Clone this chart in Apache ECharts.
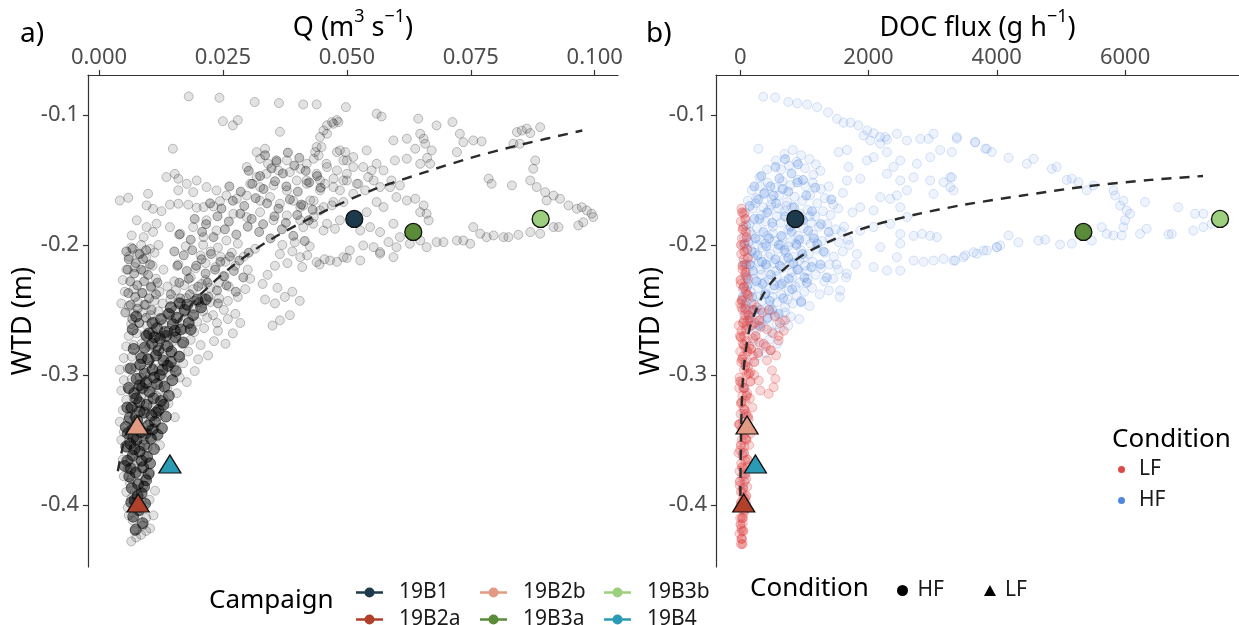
<!DOCTYPE html>
<html><head><meta charset="utf-8">
<script src="https://cdn.jsdelivr.net/npm/echarts@6/dist/echarts.min.js"></script>
<style>html,body{margin:0;padding:0;background:#fff}#c{width:1239px;height:625px}</style>
</head><body><div id="c"></div>
<script>
// ---------------- DATA ----------------
const campaigns = ['19B1', '19B2a', '19B2b', '19B3a', '19B3b', '19B4'];
const campaignQ = [0.0515, 0.0079, 0.0077, 0.0634, 0.0891, 0.0143];
const campaignDOC = [860, 55, 107, 5350, 7480, 237];
const campaignWTD = [-0.18, -0.40, -0.34, -0.19, -0.18, -0.37];
const campaignCondition = ['HF', 'LF', 'LF', 'HF', 'HF', 'LF'];

const qTicks = [0, 0.025, 0.05, 0.075, 0.1];
const docTicks = [0, 2000, 4000, 6000];
const wtdTicks = [-0.4, -0.3, -0.2, -0.1];

// fitted curves
const fitQ = [0.0038, 0.0042, 0.005, 0.006, 0.008, 0.011, 0.015, 0.02, 0.027, 0.035, 0.045, 0.055, 0.065, 0.075, 0.085, 0.0975];
const fitWtdA = [-0.374, -0.366, -0.352, -0.338, -0.314, -0.289, -0.264, -0.240, -0.216, -0.195, -0.175, -0.158, -0.145, -0.133, -0.123, -0.112];
const fitDoc = [3, 6, 12, 22, 40, 70, 110, 160, 240, 350, 500, 700, 1000, 1400, 2000, 2700, 3500, 4400, 5400, 6400, 7215];
const fitWtdB = [-0.393, -0.372, -0.35, -0.326, -0.305, -0.288, -0.274, -0.262, -0.251, -0.239, -0.228, -0.218, -0.207, -0.197, -0.186, -0.177, -0.169, -0.162, -0.155, -0.150, -0.147];

// panel a: darkest core of the Q / WTD cloud  [Q, WTD]
const qWtdCore = [
[0.0074,-0.419],[0.0088,-0.414],[0.0069,-0.409],[0.0081,-0.404],[0.0093,-0.399],[0.0072,-0.396],[0.0086,-0.391],[0.0066,-0.387],
[0.0079,-0.384],[0.0095,-0.381],[0.0061,-0.378],[0.0074,-0.375],[0.0089,-0.371],[0.0103,-0.368],[0.0057,-0.366],[0.0068,-0.362],[0.0082,-0.359],[0.0097,-0.363],[0.0111,-0.357],[0.0063,-0.353],[0.0076,-0.35],[0.0091,-0.354],[0.0105,-0.349],
[0.0118,-0.346],[0.0058,-0.345],[0.007,-0.341],[0.0084,-0.344],[0.0099,-0.339],[0.0113,-0.336],[0.0127,-0.341],[0.0062,-0.333],[0.0077,-0.335],[0.0091,-0.329],[0.0106,-0.331],[0.012,-0.327],[0.0135,-0.332],[0.0066,-0.325],[0.0081,-0.321],[0.0096,-0.323],[0.011,-0.318],[0.0125,-0.32],[0.0141,-0.316],[0.0071,-0.314],[0.0087,-0.31],[0.0102,-0.313],
[0.0117,-0.307],[0.0132,-0.309],[0.0148,-0.304],[0.0076,-0.303],[0.0092,-0.299],[0.0108,-0.296],[0.0123,-0.3],[0.0139,-0.293],[0.0155,-0.297],[0.0083,-0.292],[0.0099,-0.288],[0.0115,-0.285],[0.013,-0.289],[0.0146,-0.282],[0.0162,-0.286],[0.0092,-0.279],[0.0107,-0.276],[0.0123,-0.272],[0.0138,-0.278],[0.0154,-0.271],[0.017,-0.275],
[0.0101,-0.268],[0.0117,-0.264],[0.0133,-0.267],[0.0149,-0.261],[0.0165,-0.265],[0.0181,-0.26],[0.0125,-0.257],[0.0141,-0.253],[0.0157,-0.256],[0.0173,-0.25],[0.019,-0.254],[0.0206,-0.248],[0.0163,-0.245],[0.0198,-0.242],
[0.0052,-0.37],[0.0055,-0.355],[0.0054,-0.34],[0.0057,-0.325],[0.006,-0.31],[0.0064,-0.295],[0.007,-0.28],[0.0068,-0.265],[0.0075,-0.255],
[0.0065,-0.398],[0.0078,-0.393],[0.0091,-0.386],[0.0064,-0.372],[0.0086,-0.366],[0.01,-0.376],[0.0072,-0.357],[0.0094,-0.345],[0.0108,-0.342],[0.0069,-0.348],[0.0082,-0.328],[0.0115,-0.329],[0.013,-0.323],[0.0075,-0.318],[0.0095,-0.306],[0.0111,-0.302],[0.0128,-0.296],[0.0145,-0.29],[0.0086,-0.287],[0.012,-0.281],[0.0135,-0.27],[0.0153,-0.266],[0.0112,-0.271],[0.0145,-0.248],[0.0178,-0.246],[0.0185,-0.265],[0.0215,-0.242],[0.0108,-0.26],[0.0096,-0.27],[0.0082,-0.308]
];

// panel a: medium-density part of the cloud  [Q, WTD]
const qWtdMid = [
[0.0055,-0.205],[0.0068,-0.203],[0.0082,-0.207],[0.0095,-0.204],[0.006,-0.211],[0.0074,-0.214],[0.0089,-0.211],[0.0103,-0.215],[0.0058,-0.219],[0.0071,-0.222],[0.0085,-0.219],[0.0099,-0.223],[0.0063,-0.228],[0.0077,-0.231],[0.0091,-0.228],[0.0105,-0.232],[0.0118,-0.229],[0.0059,-0.237],[0.0073,-0.24],[0.0087,-0.237],[0.0101,-0.241],[0.0115,-0.238],[0.0064,-0.246],[0.0078,-0.249],[0.0092,-0.246],[0.0106,-0.25],[0.0053,-0.252],[0.0067,-0.257],[0.0081,-0.26],[0.0095,-0.256],
[0.0152,-0.205],[0.0171,-0.208],[0.0188,-0.204],[0.0207,-0.211],[0.0226,-0.207],[0.0245,-0.213],[0.0264,-0.209],[0.0283,-0.212],[0.0302,-0.206],[0.0158,-0.216],[0.0177,-0.22],[0.0196,-0.216],[0.0215,-0.222],[0.0234,-0.219],[0.0253,-0.224],[0.0272,-0.22],[0.0291,-0.225],[0.0162,-0.229],[0.0181,-0.226],[0.02,-0.232],[0.0219,-0.229],[0.0238,-0.235],[0.0257,-0.231],[0.0276,-0.236],[0.0145,-0.238],[0.0164,-0.241],[0.0183,-0.238],[0.0202,-0.244],[0.0221,-0.24],[0.024,-0.245],
[0.0162,-0.192],[0.0185,-0.196],[0.0208,-0.19],[0.0231,-0.194],[0.0254,-0.188],[0.0277,-0.192],[0.03,-0.186],[0.0323,-0.19],[0.0346,-0.195],[0.0369,-0.188],[0.0392,-0.193],[0.0415,-0.197],[0.0193,-0.18],[0.0216,-0.184],[0.0239,-0.178],[0.0262,-0.182],[0.0285,-0.176],[0.0308,-0.18],[0.0331,-0.184],[0.0354,-0.178],[0.0377,-0.183],[0.04,-0.177],[0.0423,-0.181],
[0.0224,-0.168],[0.0247,-0.172],[0.027,-0.166],[0.0293,-0.17],[0.0316,-0.164],[0.0339,-0.168],[0.0362,-0.172],[0.0385,-0.165],[0.0408,-0.169],[0.0431,-0.173],[0.0263,-0.155],[0.0286,-0.159],[0.0309,-0.153],[0.0332,-0.157],[0.0355,-0.151],[0.0378,-0.155],[0.0401,-0.159],[0.0424,-0.152],[0.0447,-0.156],[0.0302,-0.143],[0.0325,-0.147],[0.0348,-0.141],[0.0371,-0.145],[0.0394,-0.139],[0.0417,-0.143],[0.044,-0.147],[0.0335,-0.131],[0.0358,-0.135],[0.0381,-0.129],[0.0404,-0.133]
];

// panel a: rest of the Q / WTD cloud  [Q, WTD]
const qWtdCloud = [
[0.0065,-0.428],[0.0075,-0.425],[0.0085,-0.423],[0.0095,-0.42],[0.0103,-0.418],[0.0072,-0.42],[0.0088,-0.416],[0.0068,-0.412],[0.006,-0.408],[0.0078,-0.405],[0.0095,-0.41],[0.011,-0.408],[0.0058,-0.402],[0.007,-0.398],[0.0085,-0.4],[0.0065,-0.395],[0.0102,-0.396],[0.0055,-0.39],[0.0075,-0.388],[0.009,-0.385],[0.0062,-0.383],[0.0113,-0.389],
[0.005,-0.378],[0.0065,-0.38],[0.008,-0.377],[0.0095,-0.379],[0.0058,-0.372],[0.0072,-0.37],[0.0087,-0.372],[0.0103,-0.375],[0.0048,-0.365],[0.0063,-0.364],[0.0078,-0.366],[0.0092,-0.362],[0.0068,-0.358],[0.0083,-0.355],[0.0055,-0.356],[0.0098,-0.356],[0.0123,-0.354],[0.0045,-0.35],[0.006,-0.351],[0.0075,-0.349],[0.009,-0.35],[0.0105,-0.348],
[0.005,-0.344],[0.0065,-0.342],[0.0082,-0.34],[0.0097,-0.343],[0.0112,-0.341],[0.0042,-0.336],[0.0058,-0.335],[0.0073,-0.333],[0.0088,-0.334],[0.0103,-0.336],[0.0118,-0.332],[0.0153,-0.3325],[0.0048,-0.327],[0.0063,-0.326],[0.0078,-0.325],[0.0093,-0.327],[0.0108,-0.324],[0.0125,-0.326],[0.014,-0.322],[0.0055,-0.319],[0.007,-0.318],[0.0085,-0.317],[0.01,-0.319],[0.0115,-0.316],[0.013,-0.318],[0.0157,-0.314],[0.0045,-0.312],[0.006,-0.311],[0.0078,-0.31],[0.0092,-0.312],[0.0108,-0.309],[0.0122,-0.311],[0.0138,-0.31],
[0.0177,-0.3055],[0.005,-0.304],[0.0066,-0.303],[0.0082,-0.302],[0.0097,-0.304],[0.0112,-0.301],[0.0128,-0.303],[0.0145,-0.3],[0.0163,-0.302],[0.0042,-0.296],[0.0058,-0.295],[0.0074,-0.294],[0.009,-0.296],[0.0105,-0.293],[0.012,-0.295],[0.0136,-0.292],[0.0152,-0.294],[0.017,-0.291],[0.0193,-0.297],[0.005,-0.287],[0.0066,-0.286],[0.0082,-0.285],[0.0098,-0.287],[0.0113,-0.284],[0.0129,-0.286],[0.0145,-0.283],[0.0162,-0.285],[0.018,-0.282],[0.02,-0.288],[0.022,-0.285],
[0.0055,-0.278],[0.007,-0.277],[0.0086,-0.276],[0.0102,-0.278],[0.0118,-0.275],[0.0134,-0.277],[0.015,-0.274],[0.0167,-0.276],[0.0185,-0.273],[0.0205,-0.277],[0.0232,-0.274],[0.0255,-0.276],[0.006,-0.27],[0.0076,-0.268],[0.0092,-0.269],[0.0108,-0.267],[0.0124,-0.27],[0.014,-0.266],[0.0157,-0.268],[0.0174,-0.265],[0.0192,-0.267],[0.0212,-0.264],[0.024,-0.266],[0.027,-0.268],[0.0065,-0.261],[0.0081,-0.26],[0.0097,-0.262],[0.0113,-0.259],[0.013,-0.261],[0.0146,-0.258],[0.0163,-0.26],[0.018,-0.257],[0.0198,-0.259],[0.0218,-0.256],[0.0238,-0.26],[0.026,-0.257],[0.0285,-0.26],[0.035,-0.262],[0.007,-0.253],[0.0087,-0.252],[0.0104,-0.254],[0.012,-0.251],[0.0137,-0.253],[0.0154,-0.25],[0.0172,-0.252],[0.019,-0.249],[0.021,-0.251],[0.023,-0.254],[0.0252,-0.25],[0.0275,-0.253],[0.0385,-0.254],[0.0365,-0.258],
[0.0045,-0.245],[0.006,-0.247],[0.0078,-0.244],[0.0095,-0.246],[0.0112,-0.243],[0.0128,-0.245],[0.0144,-0.242],[0.016,-0.244],[0.0176,-0.241],[0.0192,-0.243],[0.0208,-0.24],[0.0225,-0.244],[0.0242,-0.241],[0.026,-0.243],[0.028,-0.24],[0.0335,-0.242],[0.0355,-0.245],[0.0375,-0.24],[0.0405,-0.243],[0.0052,-0.236],[0.007,-0.234],[0.0088,-0.237],[0.0105,-0.233],[0.0122,-0.236],[0.0138,-0.232],[0.0155,-0.235],[0.0172,-0.231],[0.019,-0.234],[0.0207,-0.23],[0.0224,-0.233],[0.0242,-0.229],[0.0262,-0.232],[0.0295,-0.234],[0.033,-0.23],[0.036,-0.233],[0.039,-0.236],[0.0048,-0.227],[0.0115,-0.226],[0.0152,-0.228],[0.0185,-0.225],[0.0215,-0.227],[0.025,-0.224],[0.0305,-0.226],[0.034,-0.223],
[0.0055,-0.219],[0.0072,-0.217],[0.009,-0.22],[0.0108,-0.216],[0.013,-0.219],[0.016,-0.215],[0.0195,-0.218],[0.0215,-0.214],[0.0235,-0.217],[0.0255,-0.213],[0.0275,-0.216],[0.03,-0.219],[0.0355,-0.216],[0.038,-0.214],[0.041,-0.217],[0.0445,-0.215],[0.006,-0.209],[0.0078,-0.207],[0.0095,-0.21],[0.0112,-0.206],[0.0205,-0.208],[0.0225,-0.205],[0.0245,-0.209],[0.0268,-0.206],[0.0292,-0.209],[0.0365,-0.207],[0.039,-0.205],[0.042,-0.208],[0.0455,-0.211],[0.048,-0.213],[0.05,-0.21],[0.0065,-0.202],[0.0085,-0.2],[0.0103,-0.203],[0.012,-0.2],[0.0175,-0.201],[0.021,-0.2],[0.024,-0.202],[0.028,-0.199],[0.0315,-0.203],[0.037,-0.2],[0.0395,-0.198],[0.0425,-0.201],
[0.0181,-0.0858],[0.0243,-0.0868],[0.0314,-0.0901],[0.0363,-0.0909],[0.0412,-0.0919],[0.0439,-0.0919],[0.0498,-0.094],[0.025,-0.1048],[0.027,-0.108],[0.028,-0.104],[0.0365,-0.113],[0.0149,-0.126],
[0.046,-0.108],[0.047,-0.1055],[0.048,-0.104],[0.0453,-0.112],[0.0446,-0.117],[0.0439,-0.1247],[0.0443,-0.1312],[0.0486,-0.1273],[0.0497,-0.1286],[0.05,-0.135],
[0.0318,-0.1286],[0.0335,-0.126],[0.0325,-0.1337],[0.0341,-0.1376],[0.0358,-0.1363],[0.0379,-0.135],[0.0298,-0.1401],[0.0318,-0.1478],[0.0338,-0.1453],[0.0362,-0.1427],[0.0385,-0.144],[0.0406,-0.1414],[0.0419,-0.1376],[0.0433,-0.1337],[0.046,-0.1401],[0.048,-0.1427],[0.05,-0.1453],[0.0513,-0.1401],[0.0305,-0.153],[0.0325,-0.1555],[0.0352,-0.1542],[0.0379,-0.1581],[0.0399,-0.1504],[0.0419,-0.153],[0.0446,-0.1504],[0.0473,-0.1555],[0.0493,-0.1504],[0.052,-0.153],
[0.0042,-0.1658],[0.0059,-0.1637],[0.0096,-0.1696],[0.0109,-0.1722],[0.0126,-0.174],[0.0143,-0.169],[0.016,-0.1683],[0.018,-0.169],[0.0197,-0.1714],[0.0211,-0.1709],[0.0231,-0.1704],[0.0244,-0.1663],
[0.0257,-0.162],[0.0278,-0.1645],[0.0298,-0.162],[0.0325,-0.166],[0.0345,-0.1632],[0.0365,-0.1683],[0.0392,-0.166],[0.0412,-0.1696],[0.0433,-0.166],[0.0453,-0.1709],[0.0473,-0.167],[0.0271,-0.176],[0.0298,-0.1786],[0.0325,-0.1748],[0.0352,-0.181],[0.0379,-0.1773],[0.0406,-0.181],[0.0433,-0.1786],[0.046,-0.1837],[0.0486,-0.181],
[0.0136,-0.1478],[0.0153,-0.1453],[0.016,-0.1491],[0.0177,-0.153],[0.0197,-0.1504],[0.0217,-0.1555],[0.0237,-0.1581],[0.019,-0.1594],[0.0099,-0.1606],[0.016,-0.158],
[0.0076,-0.181],[0.0096,-0.1863],[0.0116,-0.1837],[0.0066,-0.1927],[0.009,-0.194],[0.0109,-0.19],[0.0143,-0.1863],[0.0164,-0.1914],[0.019,-0.1863],[0.0211,-0.194],[0.0237,-0.1889],[0.0257,-0.1966],[0.0217,-0.181],
[0.0436,-0.1286],[0.0449,-0.1247],[0.0459,-0.1376],[0.048,-0.1286],[0.0493,-0.135],[0.0513,-0.1324],[0.0533,-0.1401],[0.055,-0.1427],[0.056,-0.1376],[0.054,-0.1273],[0.046,-0.1145],[0.0473,-0.1068],[0.0483,-0.1055],
[0.0419,-0.1504],[0.0439,-0.1453],[0.0456,-0.153],[0.0473,-0.149],[0.05,-0.1504],[0.0523,-0.153],[0.0543,-0.1478],[0.0554,-0.1504],[0.0446,-0.158],[0.0486,-0.158],[0.0513,-0.1607],[0.0537,-0.158],[0.0567,-0.1555],[0.0587,-0.1555],[0.0607,-0.1542],
[0.0406,-0.1709],[0.0426,-0.1658],[0.0446,-0.1735],[0.047,-0.1696],[0.0493,-0.167],[0.054,-0.1748],[0.056,-0.167],[0.0574,-0.1709],
[0.0412,-0.1863],[0.0432,-0.1837],[0.0453,-0.1889],[0.0476,-0.1876],[0.0527,-0.1889],[0.0547,-0.1863],[0.0567,-0.1901],[0.0594,-0.1837],
[0.0406,-0.2094],[0.0439,-0.2132],[0.0466,-0.212],[0.0493,-0.2094],[0.0506,-0.2042],[0.0533,-0.2004],[0.0554,-0.2017],[0.0527,-0.212],[0.0567,-0.2055],
[0.0584,-0.1978],[0.06,-0.2017],[0.0627,-0.1991],[0.0661,-0.2017],[0.0607,-0.194],[0.0648,-0.1966],[0.0594,-0.2094],[0.0567,-0.2068],
[0.0655,-0.1696],[0.0661,-0.176],[0.0665,-0.1812],[0.0648,-0.1748],[0.0621,-0.1658],[0.06,-0.1632],[0.0638,-0.1645],
[0.0621,-0.1183],[0.0638,-0.126],[0.0621,-0.1337],[0.0648,-0.1376],[0.0597,-0.135],[0.0574,-0.1427],[0.059,-0.1504],
[0.0644,-0.1029],[0.0655,-0.1183],[0.0671,-0.1273],[0.0668,-0.1376],[0.0648,-0.1145],[0.0658,-0.1222],[0.0662,-0.133],
[0.056,-0.0991],[0.057,-0.1012],[0.0594,-0.1196],
[0.0681,-0.1081],[0.0713,-0.1055],[0.0728,-0.1145],[0.0735,-0.121],[0.0755,-0.1196],[0.0772,-0.1204],[0.0722,-0.1286],
[0.0786,-0.149],[0.0792,-0.153],[0.0833,-0.1542],
[0.0843,-0.1132],[0.0853,-0.112],[0.087,-0.114],[0.0849,-0.1222],[0.0836,-0.1222],[0.089,-0.1094],[0.0863,-0.1106],
[0.087,-0.1504],[0.0883,-0.1555],[0.09,-0.1594],[0.0917,-0.162],[0.093,-0.1645],[0.0947,-0.1696],[0.0903,-0.1658],[0.0876,-0.1414],[0.088,-0.135],
[0.0964,-0.1722],[0.0974,-0.171],[0.0984,-0.1735],[0.0994,-0.176],[0.0997,-0.1786],[0.0967,-0.185],[0.0977,-0.1825],
[0.0816,-0.194],[0.0826,-0.194],[0.0846,-0.1922],[0.087,-0.1901],[0.089,-0.1914],[0.0917,-0.1863],[0.0927,-0.1863],
[0.0681,-0.1978],[0.0695,-0.1978],[0.0722,-0.1966],[0.0735,-0.1966],[0.0749,-0.1991],[0.0769,-0.1914],[0.0782,-0.194],[0.0755,-0.1863],[0.0796,-0.1927]
];

// panel b: dense part of the high-flow (HF) cloud  [DOC, WTD]
const docWtdHFCore = [
[150,-0.17],[280,-0.165],[420,-0.175],[560,-0.168],[700,-0.178],[840,-0.171],[980,-0.181],[1120,-0.174],[1260,-0.184],
[90,-0.185],[220,-0.18],[360,-0.19],[500,-0.183],[640,-0.193],[780,-0.186],[920,-0.196],[1060,-0.189],[1200,-0.199],
[130,-0.198],[270,-0.208],[410,-0.201],[550,-0.211],[690,-0.204],[830,-0.214],[970,-0.207],[1110,-0.217],
[70,-0.215],[200,-0.22],[340,-0.213],[480,-0.223],[620,-0.216],[760,-0.226],[900,-0.219],[1040,-0.229],
[110,-0.232],[250,-0.228],[390,-0.238],[530,-0.231],[670,-0.241],[810,-0.234],[950,-0.244],
[80,-0.246],[190,-0.24],[320,-0.25],[460,-0.243],[600,-0.253],[150,-0.258],[290,-0.262],[430,-0.256],
[330,-0.147],[470,-0.155],[610,-0.149],[750,-0.159],[890,-0.152],[1030,-0.162],[1170,-0.156],[550,-0.14],[800,-0.145],[700,-0.134],[900,-0.138],
[1300,-0.205],[1350,-0.225],[1380,-0.19],[1420,-0.165],[240,-0.195],[180,-0.205],[60,-0.2],[100,-0.225],[40,-0.24],
[220,-0.155],[380,-0.16],[520,-0.162],[660,-0.157],[980,-0.15],[1150,-0.195],[1250,-0.215],[300,-0.18],[450,-0.195],[600,-0.2],[750,-0.21],[880,-0.2],[1000,-0.225],[350,-0.23],[500,-0.25],[650,-0.23],[150,-0.215],[230,-0.25],[400,-0.215],[800,-0.19]
];

// panel b: high-flow (HF) DOC flux / WTD points  [DOC, WTD]
const docWtdHF = [
[420,-0.142],[560,-0.135],[690,-0.13],[820,-0.127],[950,-0.131],[1080,-0.134],[1180,-0.138],[300,-0.148],[640,-0.142],[760,-0.139],[880,-0.136],[1010,-0.141],[1140,-0.146],[1250,-0.143],[285,-0.126],
[180,-0.158],[310,-0.155],[430,-0.152],[540,-0.156],[660,-0.151],[780,-0.154],[900,-0.15],[1020,-0.155],[1130,-0.152],[1260,-0.157],[1380,-0.155],[120,-0.166],[250,-0.164],[370,-0.161],[490,-0.165],[610,-0.162],[730,-0.167],[850,-0.163],[970,-0.166],[1090,-0.162],[1200,-0.168],[1320,-0.164],[1450,-0.169],
[80,-0.175],[200,-0.172],[330,-0.177],[450,-0.173],[570,-0.178],[690,-0.174],[810,-0.171],[930,-0.176],[1050,-0.173],[1170,-0.178],[1290,-0.174],[1410,-0.177],[1530,-0.172],[140,-0.184],[260,-0.187],[390,-0.182],[510,-0.186],[630,-0.183],[750,-0.188],[870,-0.184],[990,-0.187],[1110,-0.183],[1230,-0.186],[1360,-0.184],[1490,-0.188],[1620,-0.186],
[60,-0.194],[180,-0.192],[300,-0.196],[420,-0.193],[540,-0.197],[660,-0.194],[780,-0.198],[900,-0.193],[1020,-0.196],[1140,-0.192],[1270,-0.197],[1400,-0.195],[1540,-0.198],[1680,-0.196],[110,-0.204],[230,-0.206],[350,-0.202],[470,-0.207],[590,-0.203],[710,-0.206],[830,-0.209],[950,-0.204],[1070,-0.207],[1190,-0.203],[1320,-0.206],[1460,-0.209],[1600,-0.205],
[50,-0.214],[170,-0.216],[290,-0.213],[410,-0.217],[530,-0.214],[650,-0.218],[770,-0.215],[890,-0.219],[1010,-0.216],[1130,-0.213],[1260,-0.218],[1390,-0.215],[1530,-0.219],[90,-0.224],[210,-0.226],[330,-0.223],[450,-0.227],[570,-0.224],[690,-0.228],[810,-0.225],[930,-0.229],[1050,-0.226],[1180,-0.223],[1310,-0.228],[1450,-0.226],
[40,-0.234],[160,-0.236],[280,-0.233],[400,-0.237],[520,-0.234],[640,-0.238],[760,-0.235],[880,-0.239],[1000,-0.236],[1120,-0.233],[1240,-0.238],[1380,-0.235],[100,-0.244],[220,-0.246],[340,-0.243],[460,-0.247],[580,-0.244],[700,-0.248],[820,-0.245],[950,-0.243],[1080,-0.247],
[60,-0.254],[180,-0.256],[300,-0.253],[420,-0.257],[540,-0.254],[660,-0.258],[790,-0.255],[920,-0.257],[130,-0.264],[250,-0.266],[370,-0.263],[490,-0.267],[620,-0.264],[750,-0.262],[200,-0.274],[320,-0.277],[450,-0.273],[580,-0.276],[280,-0.285],[400,-0.283],[120,-0.29],[60,-0.31],[50,-0.33],[40,-0.36],[70,-0.378],[45,-0.385],
[240,-0.168],[360,-0.171],[480,-0.169],[600,-0.172],[720,-0.17],[840,-0.178],[960,-0.18],[1080,-0.178],[150,-0.19],[270,-0.2],[390,-0.199],[510,-0.191],[630,-0.2],[750,-0.201],[870,-0.199],[990,-0.21],[1100,-0.199],[200,-0.21],[320,-0.219],[440,-0.209],[560,-0.22],[680,-0.211],[800,-0.221],[920,-0.212],[1040,-0.22],[130,-0.23],[260,-0.24],[380,-0.229],[500,-0.24],[620,-0.231],[740,-0.242],[860,-0.232],[90,-0.25],[210,-0.25],[330,-0.26],[450,-0.25],[570,-0.261],[700,-0.252],
[1600,-0.16],[1750,-0.175],[1700,-0.2],[1800,-0.215],[1650,-0.225],[1550,-0.24],[1500,-0.215],[1580,-0.19],
[360,-0.086],[545,-0.0865],[750,-0.09],[890,-0.091],[1045,-0.092],[1200,-0.094],[1370,-0.098],[1510,-0.103],[1610,-0.106],[1720,-0.106],[1840,-0.108],[1980,-0.112],[2080,-0.114],[2180,-0.117],[2290,-0.119],
[1924,-0.1158],[2028,-0.1197],[2184,-0.1222],[2262,-0.117],[2443,-0.1145],[2599,-0.1197],[2807,-0.1184],[2937,-0.1184],[3014,-0.1145],[3378,-0.117],[3663,-0.121],[3845,-0.126],[3923,-0.1286],
[1664,-0.127],[1535,-0.1286],[1690,-0.14],[1976,-0.135],[2080,-0.1325],[2288,-0.1286],[2495,-0.135],[2755,-0.1376],[2962,-0.1325],[3118,-0.127],
[1664,-0.1504],[1872,-0.149],[2288,-0.1453],[2391,-0.14],[2495,-0.1504],[2703,-0.148],[2962,-0.1504],[3170,-0.1517],[3274,-0.148],[3014,-0.1607],[3326,-0.158],[2184,-0.1632],[2339,-0.1645],[2443,-0.162],[2599,-0.158],
[1872,-0.171],[2080,-0.1735],[2495,-0.171],[2599,-0.1786],[1872,-0.189],[2080,-0.1863],[2339,-0.1838],[2495,-0.1915],[2703,-0.193],[2833,-0.1915],[2962,-0.193],[3066,-0.194],
[2184,-0.2017],[2495,-0.199],[2443,-0.2094],[2703,-0.212],[2859,-0.213],[3014,-0.212],[3170,-0.2107],[3326,-0.212],[3482,-0.2094],[3689,-0.2068],[3845,-0.2043],[4000,-0.2017],[2080,-0.217],[2288,-0.2197],[2495,-0.2197],[1820,-0.207],[1664,-0.222],[1560,-0.235],
[3378,-0.1184],[3663,-0.121],[3819,-0.126],[4183,-0.133],[4468,-0.1376],[4572,-0.1338],[4858,-0.1415],[4935,-0.14],[5091,-0.15],[5169,-0.149],[5273,-0.1517],[5403,-0.158],[5507,-0.1543],[5818,-0.158],[5844,-0.162],[5974,-0.166],[5922,-0.1697],[6026,-0.1735],[6078,-0.176],[6000,-0.181],[5974,-0.1863],[5948,-0.1927],[5818,-0.1927],[5636,-0.1863],[5714,-0.1915],[6311,-0.167],[6233,-0.1915],[6337,-0.1876],[6675,-0.192],[6727,-0.1915],[6830,-0.171],[7090,-0.176],[7220,-0.176],[7064,-0.189],[7220,-0.1863],[7350,-0.1838],[3300,-0.1286],[3300,-0.148],[3274,-0.1556],
[3352,-0.212],[3508,-0.208],[3637,-0.2056],[3793,-0.2043],[4001,-0.2017],[4053,-0.2004],[4183,-0.1927],[4338,-0.198],[4650,-0.1966],[4754,-0.196],[4987,-0.1997],[5169,-0.199],[5481,-0.1966]
];

// panel b: low-flow (LF) DOC flux / WTD points  [DOC, WTD]
const docWtdLF = [
[20,-0.172],[60,-0.176],[10,-0.182],[50,-0.186],[90,-0.19],[25,-0.195],[70,-0.199],[110,-0.203],[15,-0.207],[55,-0.211],[95,-0.215],[35,-0.219],[75,-0.223],[120,-0.226],[10,-0.23],[50,-0.233],[90,-0.236],[130,-0.239],[30,-0.242],
[180,-0.245],[260,-0.248],[350,-0.252],[450,-0.25],[540,-0.255],[620,-0.26],[700,-0.258],[150,-0.256],[230,-0.26],[320,-0.263],[420,-0.265],[510,-0.268],[600,-0.27],[680,-0.266],[200,-0.272],[300,-0.275],[400,-0.278],[480,-0.281],[560,-0.285],[600,-0.2735],
[496,-0.2965],[548,-0.303],[522,-0.3094],[444,-0.3145],[315,-0.312],[289,-0.3043],[418,-0.2888],[470,-0.281],[366,-0.276],
[0,-0.245],[40,-0.25],[80,-0.254],[120,-0.258],[-20,-0.262],[20,-0.266],[60,-0.27],[100,-0.274],[140,-0.278],[0,-0.282],[40,-0.286],[80,-0.29],[120,-0.294],[160,-0.298],[-10,-0.302],[30,-0.306],[70,-0.31],[110,-0.314],[150,-0.318],[10,-0.322],[50,-0.326],[90,-0.33],[130,-0.334],[-20,-0.338],[20,-0.342],[60,-0.346],[100,-0.35],[140,-0.354],[0,-0.358],[40,-0.362],[80,-0.366],[120,-0.37],[-10,-0.374],[30,-0.378],[70,-0.382],[110,-0.386],[10,-0.39],[50,-0.394],[90,-0.398],[20,-0.402],[60,-0.406],[0,-0.41],[40,-0.414],[20,-0.418],[-10,-0.422],[30,-0.426],[10,-0.43],
[20,-0.248],[60,-0.258],[100,-0.262],[-5,-0.27],[40,-0.276],[85,-0.28],[200,-0.285],[15,-0.29],[60,-0.296],[100,-0.3],[220,-0.3],[-15,-0.31],[35,-0.316],[75,-0.32],[190,-0.325],[5,-0.33],[45,-0.336],[85,-0.34],[160,-0.345],[25,-0.35],[65,-0.355],[-25,-0.36],[15,-0.368],[55,-0.372],[95,-0.38],[-5,-0.385],[35,-0.39],[75,-0.395],[5,-0.4],[45,-0.41],[25,-0.42]
];

// panel b: dense low-flow (LF) column  [DOC, WTD]
const docWtdLFCore = [
[30,-0.175],[80,-0.18],[40,-0.188],[100,-0.194],[15,-0.2],[65,-0.205],[120,-0.21],[35,-0.216],[85,-0.221],[5,-0.227],[60,-0.232],[110,-0.238],[25,-0.243],[75,-0.249],[130,-0.254],[45,-0.26],[95,-0.265],[10,-0.271],[60,-0.277],[115,-0.282],[30,-0.288],[80,-0.293],[135,-0.299],[0,-0.305],[50,-0.31],[100,-0.316],[20,-0.321],[70,-0.327],[120,-0.332],[-10,-0.338],[40,-0.343],[90,-0.349],[10,-0.354],[60,-0.36],[110,-0.365],[30,-0.371],[80,-0.376],[-5,-0.382],[45,-0.387],[95,-0.393],[15,-0.398],[65,-0.404],[30,-0.41],[5,-0.415],[50,-0.42],[20,-0.426],[35,-0.43],
[180,-0.262],[240,-0.27],[170,-0.28],[220,-0.29],[280,-0.283],[160,-0.305],[200,-0.25],[300,-0.258]
];

// ---------------- STYLE ----------------
const FONT = '"Noto Sans", "Liberation Sans", Arial, sans-serif';
const campaignColors = {'19B1':'#1d3a4c','19B2a':'#b0402a','19B2b':'#e39a83','19B3a':'#5a8b38','19B3b':'#9dd07e','19B4':'#2a9ab5'};
const HF_RGB = '79,134,224', LF_RGB = '224,72,72';
const LINE_DOT = 'path://M0,3.8L27,3.8L27,6.2L0,6.2Z M13.5,0A5,5 0 1 1 13.49,0Z';

const chart = echarts.init(document.getElementById('c'), null, {renderer: 'canvas'});

function makeXAxis(gridIndex, min, max, ticks, fmt, name) {
  return {
    gridIndex, type: 'value', position: 'top', min, max,
    name, nameLocation: 'middle', nameGap: 29,
    nameTextStyle: {fontFamily: FONT, fontSize: 27, color: '#000', lineHeight: 34,
      rich: {
        t: {fontFamily: FONT, fontSize: 27, color: '#000', lineHeight: 34, verticalAlign: 'bottom'},
        s: {fontFamily: FONT, fontSize: 18, color: '#000', lineHeight: 34, verticalAlign: 'top'}
      }},
    splitLine: {show: false},
    axisLine: {show: true, onZero: false, lineStyle: {color: '#333', width: 1.2}},
    axisTick: {show: true, length: 5, lineStyle: {color: '#333', width: 1.2}, customValues: ticks},
    axisLabel: {customValues: ticks, formatter: fmt, fontFamily: FONT, fontSize: 22, color: '#4d4d4d', margin: 6}
  };
}
function makeYAxis(gridIndex) {
  return {
    gridIndex, type: 'value', min: -0.4477, max: -0.0693,
    name: 'WTD (m)', nameLocation: 'middle', nameGap: 48, nameRotate: 90,
    nameTextStyle: {fontFamily: FONT, fontSize: 27, color: '#000'},
    splitLine: {show: false},
    axisLine: {show: true, onZero: false, lineStyle: {color: '#333', width: 1.2}},
    axisTick: {show: true, length: 5, lineStyle: {color: '#333', width: 1.2}, customValues: wtdTicks},
    axisLabel: {customValues: wtdTicks, formatter: v => v.toFixed(1), fontFamily: FONT, fontSize: 22, color: '#4d4d4d', margin: 9}
  };
}

function cloud(name, xi, data, size, fillA, strokeA, rgb) {
  return {name, type: 'scatter', xAxisIndex: xi, yAxisIndex: xi, data, symbolSize: size, silent: true, z: 1,
    itemStyle: {color: `rgba(${rgb},${fillA})`, borderColor: `rgba(${rgb},${strokeA})`, borderWidth: 1}};
}

const series = [];
series.push(cloud('cloudA', 0, qWtdCloud, 9, 0.14, 0.29, '0,0,0'));
series.push(cloud('midA', 0, qWtdMid, 9, 0.3, 0.42, '0,0,0'));
series.push(cloud('coreA', 0, qWtdCore, 11, 0.58, 0.64, '0,0,0'));
series.push(cloud('HF', 1, docWtdHF, 9, 0.12, 0.27, HF_RGB));
series.push(cloud('HF', 1, docWtdHFCore, 9, 0.3, 0.42, HF_RGB));
series.push(cloud('LF', 1, docWtdLF, 9, 0.27, 0.4, LF_RGB));
series.push(cloud('LF', 1, docWtdLFCore, 9, 0.45, 0.58, LF_RGB));
// fitted dashed curves
series.push({name: 'fitA', type: 'line', xAxisIndex: 0, yAxisIndex: 0, data: fitQ.map((q, i) => [q, fitWtdA[i]]),
  smooth: 0.3, showSymbol: false, silent: true, lineStyle: {color: '#2b2b2b', width: 2.4, type: [10, 8]}, z: 3});
series.push({name: 'fitB', type: 'line', xAxisIndex: 1, yAxisIndex: 1, data: fitDoc.map((d, i) => [d, fitWtdB[i]]),
  smooth: 0.3, showSymbol: false, silent: true, lineStyle: {color: '#2b2b2b', width: 2.4, type: [10, 8]}, z: 3});
// campaign markers
campaigns.forEach((c, i) => {
  const isLF = campaignCondition[i] === 'LF';
  const common = {
    name: c, type: 'scatter', silent: true, z: 5,
    symbol: isLF ? 'triangle' : 'circle',
    symbolSize: isLF ? [22, 18] : 17,
    symbolOffset: isLF ? [0, -2] : [0, 0],
    itemStyle: {color: campaignColors[c], borderColor: '#111', borderWidth: 1.3, opacity: 1}
  };
  series.push(Object.assign({}, common, {xAxisIndex: 0, yAxisIndex: 0, data: [[campaignQ[i], campaignWTD[i]]]}));
  series.push(Object.assign({}, common, {xAxisIndex: 1, yAxisIndex: 1, data: [[campaignDOC[i], campaignWTD[i]]]}));
});

const legendOrder = ['19B1', '19B2b', '19B3b', '19B2a', '19B3a', '19B4'];

const option = {
  backgroundColor: '#fff',
  animation: false,
  grid: [
    {left: 88, top: 75, width: 530, height: 492, outerBoundsMode: 'none', containLabel: false},
    {left: 716, top: 75, width: 523, height: 492, outerBoundsMode: 'none', containLabel: false}
  ],
  xAxis: [
    makeXAxis(0, -0.00222, 0.1047, qTicks, v => v.toFixed(3), '{t|Q (m}{s|3}{t| s}{s|−1}{t|)}'),
    makeXAxis(1, -377, 7776, docTicks, v => String(v), '{t|DOC flux (g h}{s|−1}{t|)}')
  ],
  yAxis: [makeYAxis(0), makeYAxis(1)],
  legend: [
    {
      data: legendOrder.map(n => ({name: n, icon: LINE_DOT, itemStyle: {color: campaignColors[n], borderWidth: 0, opacity: 1}})),
      left: 356, top: 582, width: 380, orient: 'horizontal', padding: 0,
      itemWidth: 27, itemHeight: 10, itemGap: 6, selectedMode: false,
      textStyle: {fontFamily: FONT, fontSize: 21, color: '#1a1a1a', width: 75, height: 16, lineHeight: 16, padding: [0, 0, 0, 11]}
    },
    {
      data: [
        {name: 'HF', icon: 'circle', itemStyle: {color: '#000', borderWidth: 0, opacity: 1}},
        {name: 'LF', icon: 'triangle', itemStyle: {color: '#000', borderWidth: 0, opacity: 1}}
      ],
      left: 897, top: 580, orient: 'horizontal', padding: 0,
      itemWidth: 12, itemHeight: 11, itemGap: 40, selectedMode: false,
      textStyle: {fontFamily: FONT, fontSize: 21, color: '#1a1a1a', height: 19, lineHeight: 19, padding: [0, 0, 0, 4]}
    },
    {
      data: [
        {name: 'LF', icon: 'circle', itemStyle: {color: `rgb(${LF_RGB})`, borderWidth: 0, opacity: 1}},
        {name: 'HF', icon: 'circle', itemStyle: {color: `rgb(${HF_RGB})`, borderWidth: 0, opacity: 1}}
      ],
      left: 1118, top: 459, orient: 'vertical', padding: 0,
      itemWidth: 7, itemHeight: 7, itemGap: 10, selectedMode: false,
      textStyle: {fontFamily: FONT, fontSize: 21, color: '#1a1a1a', height: 19, lineHeight: 19, padding: [0, 0, 0, 9]}
    }
  ],
  graphic: [
    {type: 'text', left: 20, top: 20, style: {text: 'a)', font: `28px ${FONT}`, fill: '#000'}},
    {type: 'text', left: 646, top: 20, style: {text: 'b)', font: `28px ${FONT}`, fill: '#000'}},
    {type: 'text', left: 209, top: 588, style: {text: 'Campaign', font: `26px ${FONT}`, fill: '#000'}},
    {type: 'text', left: 750, top: 576, style: {text: 'Condition', font: `26px ${FONT}`, fill: '#000'}},
    {type: 'text', left: 1112, top: 427, style: {text: 'Condition', font: `26px ${FONT}`, fill: '#000'}}
  ],
  series
};
chart.setOption(option);
</script>
</body></html>
